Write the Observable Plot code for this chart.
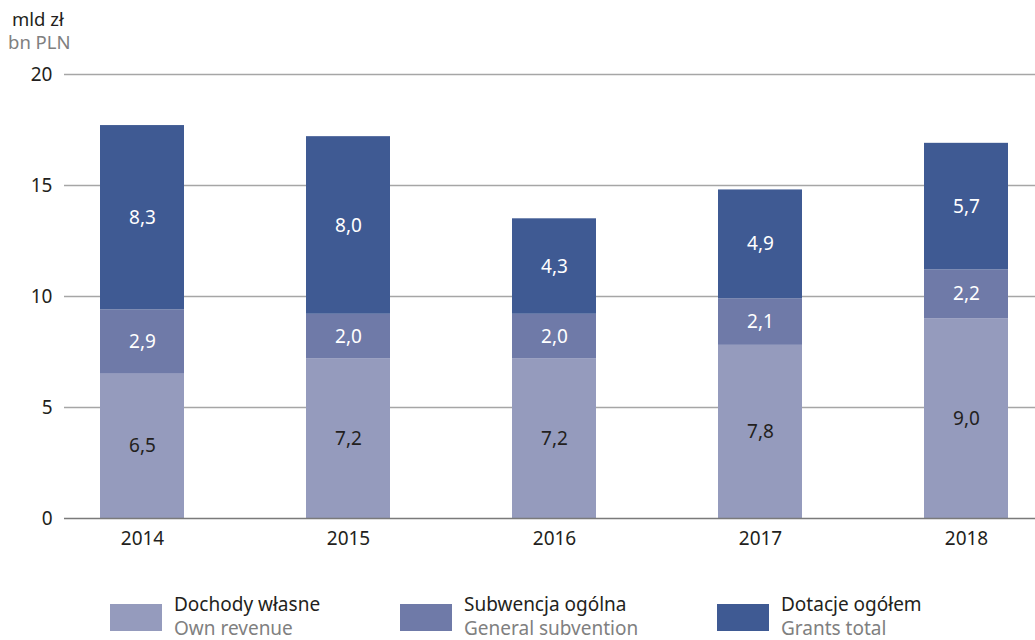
<!DOCTYPE html>
<html><head><meta charset="utf-8">
<script src="https://cdn.jsdelivr.net/npm/d3@7"></script>
<script src="https://cdn.jsdelivr.net/npm/@observablehq/plot@0.6"></script>
<style>
body{margin:0;background:#fff;font-family:"Noto Sans",sans-serif;}
#wrap{position:relative;width:1035px;height:640px;overflow:hidden;}
#chart{position:absolute;left:0;top:0;}
.unit{position:absolute;left:12px;font-size:18.5px;line-height:22px;}
.leg{position:absolute;top:596px;}
.sw{position:absolute;width:52px;height:27px;top:8px;}
.lt{position:absolute;white-space:nowrap;font-size:19px;line-height:22px;}
.pl{color:#231f20}
.en{color:#808080}
</style></head>
<body><div id="wrap">
<div id="chart"></div>
<div class="unit pl" style="top:8px;">mld zł</div>
<div class="unit en" style="top:31px;left:8px;">bn PLN</div>
<div id="legend"></div>
</div>
<script>
const years = ["2014","2015","2016","2017","2018"];
const seriesPL = ["Dochody własne","Subwencja ogólna","Dotacje ogółem"];
const seriesEN = ["Own revenue","General subvention","Grants total"];
const ownRevenue = [6.5, 7.2, 7.2, 7.8, 9.0];
const generalSubvention = [2.9, 2.0, 2.0, 2.1, 2.2];
const grantsTotal = [8.3, 8.0, 4.3, 4.9, 5.7];
const yTicks = [0, 5, 10, 15, 20];
const colors = ["#959bbd", "#6f7aa8", "#3f5a93"];
const labelColors = ["#231f20", "#ffffff", "#ffffff"];

const seriesValues = [ownRevenue, generalSubvention, grantsTotal];
const data = [];
seriesValues.forEach((vals, si) => {
  vals.forEach((v, i) => data.push({year: years[i], series: seriesPL[si], value: v}));
});
const fmt = v => v.toFixed(1).replace(".", ",");

const chart = Plot.plot({
  width: 1035,
  height: 560,
  marginLeft: 64,
  marginRight: 0,
  marginTop: 74,
  marginBottom: 42,
  style: {fontFamily: "Noto Sans, sans-serif", fontSize: "19px", color: "#231f20", background: "#fff"},
  x: {domain: years, range: [64, 1044], paddingInner: 0.593, paddingOuter: 0.169, label: null, tickSize: 0, tickPadding: 12},
  y: {domain: [0, 20], ticks: yTicks, label: null, tickSize: 0, tickPadding: 12, grid: false},
  color: {domain: seriesPL, range: colors},
  marks: [
    Plot.ruleY(yTicks.filter(t => t > 0), {stroke: "#a6a6a6", strokeWidth: 1.5}),
    Plot.barY(data, {x: "year", y: "value", fill: "series", order: seriesPL}),
    Plot.text(data, Plot.stackY({x: "year", y: "value", z: "series", order: seriesPL,
      text: d => fmt(d.value),
      fill: d => labelColors[seriesPL.indexOf(d.series)],
      fontSize: 19})),
    Plot.ruleY([0], {stroke: "#7a7a7a", strokeWidth: 1.6}),
    Plot.axisY({ticks: yTicks, tickSize: 0, tickPadding: 12, fontSize: 19, label: null}),
    Plot.axisX({tickSize: 0, tickPadding: 13, fontSize: 19, label: null})
  ]
});
chart.style.color = "#231f20";
document.getElementById("chart").appendChild(chart);

const legendX = [110, 400, 717];
const legend = document.getElementById("legend");
seriesPL.forEach((s, i) => {
  const g = document.createElement("div");
  g.className = "leg";
  g.style.left = legendX[i] + "px";
  g.innerHTML = `<div class="sw" style="left:0;background:${colors[i]}"></div>
    <div class="lt pl" style="left:64px;top:-3px;">${s}</div>
    <div class="lt en" style="left:64px;top:21px;">${seriesEN[i]}</div>`;
  legend.appendChild(g);
});
</script>
</body></html>
